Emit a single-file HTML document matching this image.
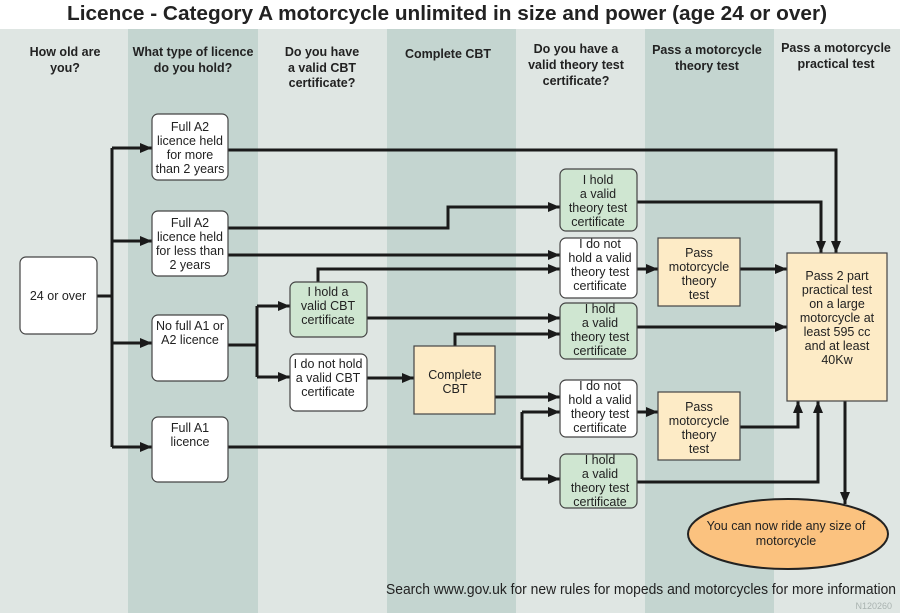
<!DOCTYPE html>
<html><head><meta charset="utf-8"><style>
html,body{margin:0;padding:0;background:#fff}
svg{display:block}
text{font-family:"Liberation Sans",Arial,sans-serif;fill:#222}
.h{font-weight:bold;font-size:12.5px}
.b{font-size:12.5px}
</style></head><body>
<svg width="900" height="613" viewBox="0 0 900 613" xmlns="http://www.w3.org/2000/svg">
<defs>
<marker id="a" viewBox="0 0 12 10" refX="12" refY="5" markerWidth="12" markerHeight="10" markerUnits="userSpaceOnUse" orient="auto"><path d="M0,0L12,5L0,10z" fill="#1a1a1a"/></marker>
</defs>
<rect x="0" y="29" width="900" height="584" fill="#dfe6e3"/>
<rect x="128" y="29" width="130" height="584" fill="#c4d5d0"/>
<rect x="387" y="29" width="129" height="584" fill="#c4d5d0"/>
<rect x="645" y="29" width="129" height="584" fill="#c4d5d0"/>
<text x="447" y="20" text-anchor="middle" font-weight="bold" font-size="20" textLength="760" lengthAdjust="spacingAndGlyphs">Licence - Category A motorcycle unlimited in size and power (age 24 or over)</text>
<g class="h" text-anchor="middle">
<text x="65" y="56">How old are</text><text x="65" y="72">you?</text>
<text x="193" y="56">What type of licence</text><text x="193" y="72">do you hold?</text>
<text x="322" y="56">Do you have</text><text x="322" y="72">a valid CBT</text><text x="322" y="87">certificate?</text>
<text x="448" y="58">Complete CBT</text>
<text x="576" y="53">Do you have a</text><text x="576" y="69">valid theory test</text><text x="576" y="85">certificate?</text>
<text x="707" y="54">Pass a motorcycle</text><text x="707" y="70">theory test</text>
<text x="836" y="52">Pass a motorcycle</text><text x="836" y="68">practical test</text>
</g>
<g fill="none" stroke="#1a1a1a" stroke-width="3">
<path d="M97 296H112"/>
<path d="M112 148V447"/>
<path d="M112 148H152" marker-end="url(#a)"/>
<path d="M112 241H152" marker-end="url(#a)"/>
<path d="M112 343H152" marker-end="url(#a)"/>
<path d="M112 447H152" marker-end="url(#a)"/>
<path d="M228 150H836V253" marker-end="url(#a)"/>
<path d="M228 228H448V207H560" marker-end="url(#a)"/>
<path d="M228 255H560" marker-end="url(#a)"/>
<path d="M228 345H257"/>
<path d="M257 306V377"/>
<path d="M257 306H290" marker-end="url(#a)"/>
<path d="M257 377H290" marker-end="url(#a)"/>
<path d="M318 282V269H560" marker-end="url(#a)"/>
<path d="M367 318H560" marker-end="url(#a)"/>
<path d="M367 378H414" marker-end="url(#a)"/>
<path d="M455 346V334H560" marker-end="url(#a)"/>
<path d="M495 397H560" marker-end="url(#a)"/>
<path d="M228 447H522"/>
<path d="M522 412V479"/>
<path d="M522 412H560" marker-end="url(#a)"/>
<path d="M522 479H560" marker-end="url(#a)"/>
<path d="M637 202H821V253" marker-end="url(#a)"/>
<path d="M637 269H658" marker-end="url(#a)"/>
<path d="M740 269H787" marker-end="url(#a)"/>
<path d="M637 327H787" marker-end="url(#a)"/>
<path d="M637 412H658" marker-end="url(#a)"/>
<path d="M740 427H798V401" marker-end="url(#a)"/>
<path d="M637 482H818V401" marker-end="url(#a)"/>
<path d="M845 401V504" marker-end="url(#a)"/>
</g>
<g stroke="#444" stroke-width="1.2">
<rect x="20" y="257" width="77" height="77" rx="6" fill="#fff"/>
<rect x="152" y="114" width="76" height="66" rx="6" fill="#fff"/>
<rect x="152" y="211" width="76" height="65" rx="6" fill="#fff"/>
<rect x="152" y="315" width="76" height="66" rx="6" fill="#fff"/>
<rect x="152" y="417" width="76" height="65" rx="6" fill="#fff"/>
<rect x="290" y="282" width="77" height="55" rx="6" fill="#cfe6d1"/>
<rect x="290" y="354" width="77" height="57" rx="6" fill="#fff"/>
<rect x="414" y="346" width="81" height="68" fill="#fdebc6"/>
<rect x="560" y="169" width="77" height="62" rx="6" fill="#cfe6d1"/>
<rect x="560" y="238" width="77" height="60" rx="6" fill="#fff"/>
<rect x="560" y="303" width="77" height="56" rx="6" fill="#cfe6d1"/>
<rect x="560" y="380" width="77" height="57" rx="6" fill="#fff"/>
<rect x="560" y="454" width="77" height="54" rx="6" fill="#cfe6d1"/>
<rect x="658" y="238" width="82" height="68" fill="#fdebc6"/>
<rect x="658" y="392" width="82" height="68" fill="#fdebc6"/>
<rect x="787" y="253" width="100" height="148" fill="#fdebc6"/>
<ellipse cx="788" cy="534" rx="100" ry="35" fill="#fbc27f" stroke="#222" stroke-width="2"/>
</g>
<g class="b" text-anchor="middle">
<text x="58" y="300">24 or over</text>
<text x="190" y="131">Full A2</text><text x="190" y="145">licence held</text><text x="190" y="159">for more</text><text x="190" y="173">than 2 years</text>
<text x="190" y="227">Full A2</text><text x="190" y="241">licence held</text><text x="190" y="255">for less than</text><text x="190" y="269">2 years</text>
<text x="190" y="330">No full A1 or</text><text x="190" y="344">A2 licence</text>
<text x="190" y="432">Full A1</text><text x="190" y="446">licence</text>
<text x="328" y="296">I hold a</text><text x="328" y="310">valid CBT</text><text x="328" y="324">certificate</text>
<text x="328" y="368">I do not hold</text><text x="328" y="382">a valid CBT</text><text x="328" y="396">certificate</text>
<text x="455" y="379">Complete</text><text x="455" y="393">CBT</text>
<text x="598" y="184">I hold</text><text x="598" y="198">a valid</text><text x="598" y="212">theory test</text><text x="598" y="226">certificate</text>
<text x="600" y="248">I do not</text><text x="600" y="262">hold a valid</text><text x="600" y="276">theory test</text><text x="600" y="290">certificate</text>
<text x="600" y="313">I hold</text><text x="600" y="327">a valid</text><text x="600" y="341">theory test</text><text x="600" y="355">certificate</text>
<text x="600" y="390">I do not</text><text x="600" y="404">hold a valid</text><text x="600" y="418">theory test</text><text x="600" y="432">certificate</text>
<text x="600" y="464">I hold</text><text x="600" y="478">a valid</text><text x="600" y="492">theory test</text><text x="600" y="506">certificate</text>
<text x="699" y="257">Pass</text><text x="699" y="271">motorcycle</text><text x="699" y="285">theory</text><text x="699" y="299">test</text>
<text x="699" y="411">Pass</text><text x="699" y="425">motorcycle</text><text x="699" y="439">theory</text><text x="699" y="453">test</text>
<text x="837" y="280">Pass 2 part</text><text x="837" y="294">practical test</text><text x="837" y="308">on a large</text><text x="837" y="322">motorcycle at</text><text x="837" y="336">least 595 cc</text><text x="837" y="350">and at least</text><text x="837" y="364">40Kw</text>
<text x="786" y="530">You can now ride any size of</text><text x="786" y="545">motorcycle</text>
</g>
<text x="386" y="594" font-size="14.5" textLength="510" lengthAdjust="spacingAndGlyphs">Search www.gov.uk for new rules for mopeds and motorcycles for more information</text>
<text x="892" y="609" font-size="9" text-anchor="end" style="fill:#a9b3b0">N120260</text>
</svg>
</body></html>
